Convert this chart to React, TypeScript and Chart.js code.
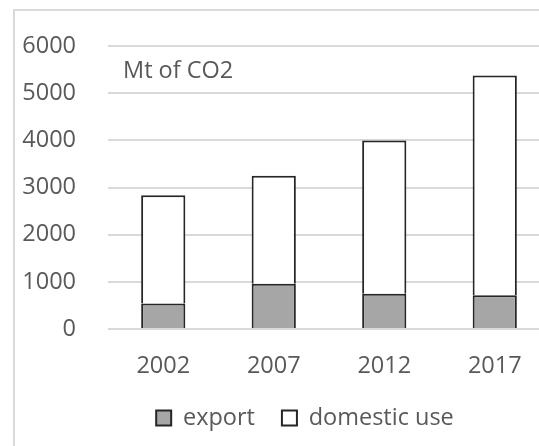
import React, { useEffect, useRef } from "react";
import { Chart, registerables } from "chart.js";

Chart.register(...registerables);

const categories = ["2002", "2007", "2012", "2017"];
const exportValues = [540, 960, 745, 715];
const domesticValues = [2295, 2290, 3255, 4663];
const yMin = 0;
const yMax = 6000;
const yStep = 1000;
const unitLabel = "Mt of CO2";
const seriesNames = ["export", "domestic use"];

const FONT = "'Open Sans', sans-serif";
const TEXT = "#595959";

const legendShift = {
  id: "legendShift",
  afterLayout(chart: any) {
    const l = chart.legend;
    if (l) {
      l.left += 30;
      l.right += 30;
    }
  },
};

export default function App() {
  const ref = useRef<HTMLCanvasElement | null>(null);

  useEffect(() => {
    if (!ref.current) return;
    const chart = new Chart(ref.current, {
      type: "bar",
      data: {
        labels: categories,
        datasets: [
          {
            label: seriesNames[0],
            data: exportValues,
            backgroundColor: "#a6a6a6",
            borderColor: "#262626",
            borderWidth: 2,
            barPercentage: 1,
            categoryPercentage: 0.4,
          },
          {
            label: seriesNames[1],
            data: domesticValues,
            backgroundColor: "#ffffff",
            borderColor: "#262626",
            borderWidth: 2,
            barPercentage: 1,
            categoryPercentage: 0.4,
          },
        ],
      },
      plugins: [legendShift],
      options: {
        responsive: false,
        animation: false,
        devicePixelRatio: 1,
        layout: { padding: { left: 0, right: 2, top: 43, bottom: 6.25 } },
        plugins: {
          tooltip: { enabled: false },
          title: { display: false },
          legend: {
            position: "bottom",
            labels: {
              color: TEXT,
              font: { family: FONT, size: 23.5 },
              boxWidth: 15,
              boxHeight: 15,
              padding: 27,
            },
          },
        },
        scales: {
          x: {
            stacked: true,
            grid: { display: false, drawTicks: false },
            border: { display: false },
            ticks: {
              color: TEXT,
              font: { family: FONT, size: 23.5 },
              padding: 23,
              maxRotation: 0,
            },
            afterFit: (s: any) => {
              s.height = 50.25;
            },
          },
          y: {
            stacked: true,
            min: yMin,
            max: yMax,
            grid: { color: "#d9d9d9", lineWidth: 2, drawTicks: false },
            border: { display: false },
            ticks: {
              stepSize: yStep,
              color: TEXT,
              font: { family: FONT, size: 23.5 },
              padding: 32,
              callback: (v: any) => String(v),
            },
            afterFit: (s: any) => {
              s.width = 108;
            },
          },
        },
      },
    });
    return () => chart.destroy();
  }, []);

  return (
    <div
      style={{
        position: "fixed",
        left: 0,
        top: 0,
        width: 539,
        height: 446,
        overflow: "hidden",
        background: "#ffffff",
      }}
    >
      <div
        style={{
          position: "absolute",
          left: 13,
          top: 9,
          width: 700,
          height: 700,
          border: "2px solid #d9d9d9",
        }}
      />
      <canvas
        ref={ref}
        width={552}
        height={446}
        style={{ position: "absolute", left: 0, top: 0, width: 552, height: 446 }}
      />
      <div
        style={{
          position: "absolute",
          left: 123,
          top: 57,
          fontFamily: FONT,
          fontSize: 23.5,
          lineHeight: "24px",
          color: TEXT,
          whiteSpace: "nowrap",
        }}
      >
        {unitLabel}
      </div>
    </div>
  );
}
